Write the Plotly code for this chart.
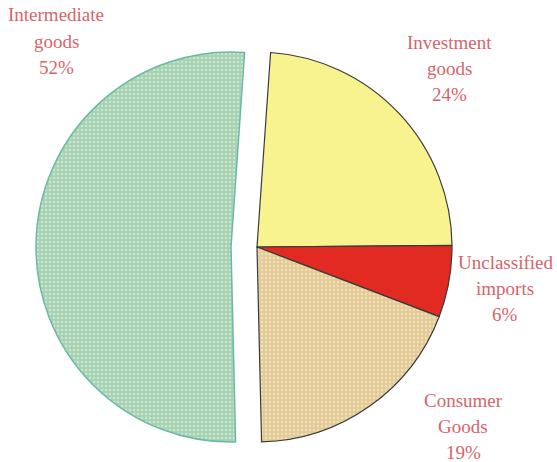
import plotly.graph_objects as go

categories = ["Investment goods", "Unclassified imports", "Consumer Goods", "Intermediate goods"]
values = [24, 6, 19, 52]
label_lines = [["Investment", "goods"], ["Unclassified", "imports"], ["Consumer", "Goods"], ["Intermediate", "goods"]]
colors = ["#f8f38e", "#e02a22", "#e3ca97", "#a6d2b2"]
dot_colors = ["#f8f38e", "#e02a22", "#f1dfb9", "#c8e5cf"]
line_colors = ["#3a3a3a", "#3a3a3a", "#3a3a3a", "#6ab9a6"]
exploded = [False, False, False, True]

W, H = 557, 462
cx, cy, r = 257, 247, 195      # pie centre / radius in page pixels
pull_px = 26                   # horizontal offset of the exploded slice


def pie_trace(show_exploded, shift):
    vis = [e == show_exploded for e in exploded]
    fill = [c if v else "rgba(0,0,0,0)" for c, v in zip(colors, vis)]
    dots = [c if v else "rgba(0,0,0,0)" for c, v in zip(dot_colors, vis)]
    lc = [c if v else "rgba(0,0,0,0)" for c, v in zip(line_colors, vis)]
    lw = [(1.5 if e else 1.2) if v else 0 for e, v in zip(exploded, vis)]
    x0 = cx - shift
    return go.Pie(
        labels=categories, values=values, sort=False, direction="clockwise", rotation=4,
        textinfo="none", hoverinfo="none", showlegend=False,
        marker=dict(colors=fill, line=dict(color=lc, width=lw),
                    pattern=dict(shape=["", "", ".", "."], fgcolor=dots, bgcolor=fill,
                                 size=4, solidity=0.3)),
        domain=dict(x=[(x0 - r) / W, (x0 + r) / W], y=[(H - cy - r) / H, (H - cy + r) / H]),
    )


fig = go.Figure()
fig.add_trace(pie_trace(False, 0))
fig.add_trace(pie_trace(True, pull_px))

# label anchor positions (page pixel centers of first line)
label_pos = [(449, 42), (505, 262), (463, 400), (56, 15)]
line_gap = 26.3
for (x, y0), lines, v in zip(label_pos, label_lines, values):
    for i, t in enumerate(lines + [f"{v}%"]):
        y = y0 + i * line_gap
        fig.add_annotation(x=x / W, y=1 - y / H, xref="paper", yref="paper", text=t,
                           showarrow=False, xanchor="center", yanchor="middle",
                           font=dict(family="Liberation Serif", size=19, color="#d6656a"))

fig.update_layout(width=W, height=H, margin=dict(l=0, r=0, t=0, b=0),
                  paper_bgcolor="white", plot_bgcolor="white")
fig.write_html("out.html", config={"displayModeBar": False, "staticPlot": True},
               post_script="document.body.style.margin='0';document.body.style.overflow='hidden';")
